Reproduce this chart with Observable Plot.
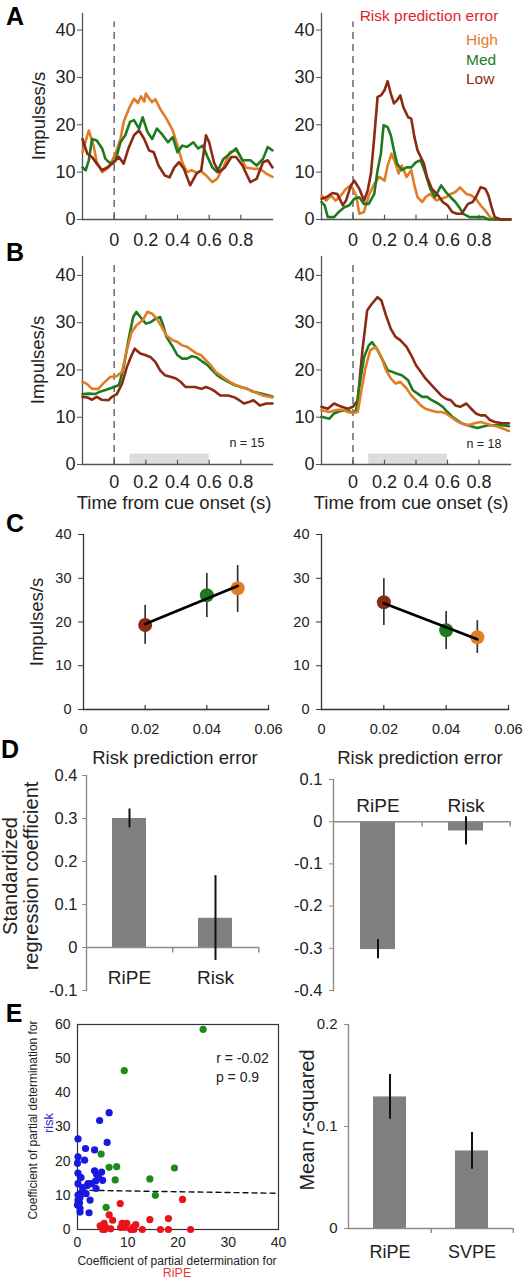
<!DOCTYPE html>
<html><head><meta charset="utf-8">
<script src="https://cdn.jsdelivr.net/npm/d3@7"></script>
<script src="https://cdn.jsdelivr.net/npm/@observablehq/plot@0.6"></script>
<style>
body{margin:0;background:#fff;}
#fig{position:relative;width:525px;height:1280px;overflow:hidden;background:#fff;font-family:"Liberation Sans",Arial,Helvetica,sans-serif;color:#222;}
.p{position:absolute;}
.p svg{overflow:visible;background:transparent;}
.lbl{position:absolute;white-space:nowrap;text-align:center;}
</style></head>
<body><div id="fig"></div>
<script>
// ---------- DATA ----------
const tDomain = [-0.2, 1.0];
const tTicks = [0, 0.2, 0.4, 0.6, 0.8];
const rateTicks = [0, 10, 20, 30, 40];
const analysisWindow = [0.1, 0.6];
const levels = ["High", "Med", "Low"];
const levelColors = {High: "#e27c25", Med: "#1f7a1f", Low: "#8b2a12"};

// Panel A (single neurons) [time s, impulses/s]
const aLeftHigh = [[-0.2,14.2],[-0.16,18.8],[-0.13,15.6],[-0.11,12.1],[-0.076,10],[-0.034,11],[0.008,13.9],[0.04,17],[0.06,20.6],[0.093,23.4],[0.125,25.5],[0.15,24.6],[0.17,26],[0.19,24.9],[0.2,26.6],[0.22,25.6],[0.24,24.8],[0.26,25.4],[0.29,23.4],[0.33,21.3],[0.37,18.8],[0.4,15.6],[0.43,12.1],[0.46,10],[0.49,10.4],[0.52,9.9],[0.55,10.2],[0.58,9.3],[0.62,7.9],[0.65,8.6],[0.69,11],[0.73,14.2],[0.77,14.6],[0.8,13.2],[0.83,11],[0.88,10.7],[0.92,10.7],[0.96,9.7],[1.0,9]];
const aLeftMed = [[-0.2,11],[-0.18,10.4],[-0.16,12.5],[-0.14,17],[-0.11,16.7],[-0.076,15],[-0.055,12.8],[-0.023,11.8],[0.008,12.5],[0.04,16.3],[0.07,17.8],[0.1,20.6],[0.125,21],[0.157,19.2],[0.18,21.6],[0.21,18.5],[0.24,17],[0.27,19.2],[0.3,18.1],[0.34,16.3],[0.37,17.4],[0.4,14.2],[0.43,15.6],[0.46,15.3],[0.5,16.3],[0.53,15],[0.56,15.6],[0.59,13.2],[0.62,11],[0.65,10],[0.69,12.8],[0.73,13.9],[0.77,15],[0.81,12.5],[0.86,12.5],[0.9,11.4],[0.94,12.8],[0.97,15.3],[1.0,14.6]];
const aLeftLow = [[-0.2,17],[-0.17,13.9],[-0.14,13.2],[-0.11,11.8],[-0.076,10.4],[-0.044,11],[0,12.1],[0.03,13.2],[0.06,11.8],[0.09,15],[0.125,17.8],[0.157,18.8],[0.19,17],[0.22,14.6],[0.25,14.2],[0.28,11.4],[0.32,9.3],[0.35,8.9],[0.38,11],[0.41,12.1],[0.44,10.7],[0.48,7.2],[0.52,9.7],[0.55,10.4],[0.58,17.8],[0.6,16.3],[0.63,12.1],[0.66,10],[0.7,11],[0.74,13.2],[0.77,13.2],[0.81,11.4],[0.86,7.9],[0.9,8.6],[0.94,12.1],[0.97,12.5],[1.0,11]];
const aRightHigh = [[-0.2,5.1],[-0.17,4],[-0.14,5.1],[-0.11,4],[-0.076,5.1],[-0.044,6.5],[-0.013,7.2],[0.02,5.1],[0.04,1.2],[0.07,1.6],[0.1,5.1],[0.135,7.5],[0.167,9],[0.2,8.2],[0.22,11.4],[0.245,13.9],[0.27,11.8],[0.29,9.7],[0.31,11.4],[0.34,9],[0.37,10.4],[0.39,7.2],[0.41,4.7],[0.44,3.7],[0.46,4.7],[0.49,5.4],[0.53,4],[0.56,4.4],[0.59,4.7],[0.62,5.4],[0.65,5.8],[0.68,6.8],[0.72,5.4],[0.75,5.1],[0.78,4.4],[0.81,3],[0.84,1.9],[0.87,0.5],[0.9,0],[1.0,0]];
const aRightMed = [[-0.2,3.7],[-0.18,3],[-0.16,0.5],[-0.12,0.5],[-0.09,1.6],[-0.055,2.6],[-0.023,3],[0.008,4.4],[0.04,4.7],[0.07,3.3],[0.1,3.3],[0.135,5.4],[0.156,10.4],[0.177,13.9],[0.194,19.9],[0.22,19.5],[0.24,17.8],[0.26,14.6],[0.28,11.8],[0.31,10.4],[0.34,11],[0.37,11],[0.4,12.1],[0.43,12.5],[0.46,9.7],[0.49,6.5],[0.52,4.7],[0.56,7.2],[0.59,5.8],[0.62,4.7],[0.65,3.7],[0.68,2.3],[0.7,1.2],[0.74,0.5],[0.83,0.5],[0.86,0],[1.0,0]];
const aRightLow = [[-0.2,4.4],[-0.17,4.7],[-0.13,5.6],[-0.1,5.4],[-0.065,3],[-0.044,4],[-0.013,7.2],[0.008,8.2],[0.04,6.5],[0.07,4],[0.093,6.1],[0.114,9.7],[0.135,17.4],[0.156,25.9],[0.177,26.2],[0.2,27.3],[0.22,29.2],[0.24,26.6],[0.26,24.5],[0.28,25.2],[0.3,26.2],[0.32,23.7],[0.35,21.6],[0.37,21.3],[0.39,17.4],[0.41,14.6],[0.43,13.2],[0.45,11.8],[0.47,9],[0.5,6.5],[0.54,5.1],[0.57,3.7],[0.6,3],[0.63,1.6],[0.66,1.2],[0.69,1.2],[0.73,3.3],[0.76,3.7],[0.78,4.7],[0.81,6.8],[0.84,6.5],[0.86,5.1],[0.88,2.6],[0.9,0.5],[0.94,0],[1.0,0]];

// Panel B (population averages)
const bLeftHigh = [[-0.2,17.5],[-0.17,17],[-0.14,16],[-0.1,16],[-0.07,17.1],[-0.025,18.5],[0.017,18.7],[0.05,19.6],[0.08,24.2],[0.11,28],[0.14,29.4],[0.18,30.5],[0.21,32.3],[0.24,31.9],[0.27,30.8],[0.3,29.1],[0.33,27.3],[0.37,26.3],[0.4,25.9],[0.43,25.2],[0.46,24.9],[0.49,24.2],[0.52,23.5],[0.55,23.1],[0.58,22],[0.61,21],[0.64,19.6],[0.67,18.9],[0.7,18.2],[0.74,17.3],[0.77,16.8],[0.8,16.4],[0.84,16],[0.88,15.4],[0.94,14.6],[1.0,14.2]];
const bLeftMed = [[-0.2,14.9],[-0.16,15],[-0.12,14.9],[-0.09,15.4],[-0.05,15.8],[0,16.4],[0.03,16.8],[0.06,20.6],[0.09,26.3],[0.12,31.2],[0.14,32.3],[0.165,31.2],[0.2,29.8],[0.23,30.1],[0.26,30.8],[0.29,31.2],[0.31,29.4],[0.33,27],[0.37,24.9],[0.4,23.1],[0.43,22.4],[0.46,22.4],[0.49,22.9],[0.52,22.7],[0.56,21.7],[0.59,21],[0.62,19.9],[0.65,18.9],[0.68,18.2],[0.72,17.5],[0.76,16.8],[0.8,16.4],[0.84,16],[0.88,15.4],[0.94,14.9],[1.0,14.4]];
const bLeftLow = [[-0.2,14.3],[-0.17,14.2],[-0.14,13.7],[-0.11,14.3],[-0.08,13.7],[-0.035,13.6],[-0.015,14.3],[0.017,14.9],[0.05,17.1],[0.08,20.6],[0.11,23.1],[0.13,24.5],[0.165,23.5],[0.2,23.1],[0.23,22.7],[0.26,21.7],[0.29,19.9],[0.32,18.9],[0.36,18.5],[0.39,18.2],[0.42,17.5],[0.45,16.4],[0.48,16.4],[0.51,16.4],[0.55,16],[0.58,16.4],[0.61,16],[0.64,15.4],[0.67,14.6],[0.72,14.6],[0.76,14.2],[0.79,13.6],[0.82,12.9],[0.85,13.2],[0.88,13.6],[0.92,12.5],[0.96,12.9],[1.0,12.9]];
const bRightHigh = [[-0.2,11.5],[-0.15,11.1],[-0.11,11.5],[-0.065,11.6],[-0.034,11.1],[0,10.9],[0.03,11.1],[0.05,15],[0.08,20.6],[0.11,24.2],[0.146,24.9],[0.18,22.7],[0.21,19.9],[0.24,18.2],[0.27,17.1],[0.3,17.5],[0.34,16.1],[0.37,14.6],[0.4,13.6],[0.43,12.5],[0.46,11.8],[0.49,11.5],[0.53,11.1],[0.56,11.1],[0.59,10.8],[0.62,10.1],[0.65,9.4],[0.68,8.8],[0.72,8.3],[0.75,8.5],[0.78,8.8],[0.81,9],[0.84,8.7],[0.88,8.3],[0.92,8],[0.95,7.6],[0.99,7.1]];
const bRightMed = [[-0.2,10.1],[-0.15,9.7],[-0.12,10.8],[-0.08,11.3],[-0.034,11.5],[0,10.8],[0.02,11.5],[0.04,16.4],[0.07,22.7],[0.1,25.2],[0.12,25.9],[0.156,24.2],[0.19,22],[0.22,19.9],[0.25,19.6],[0.28,19.2],[0.31,18.9],[0.35,17.8],[0.38,15.7],[0.41,15],[0.44,14.3],[0.47,14.3],[0.5,13.6],[0.54,12.9],[0.57,12.2],[0.6,11.1],[0.63,10.1],[0.66,9.4],[0.69,8.7],[0.73,8.3],[0.76,8],[0.79,7.7],[0.82,8],[0.86,8.3],[0.9,8.3],[0.95,8.3],[0.99,8.1]];
const bRightLow = [[-0.2,12.2],[-0.16,11.8],[-0.12,12.9],[-0.08,12.3],[-0.034,11.8],[0,12.2],[0.03,13.6],[0.06,24.2],[0.09,32.6],[0.12,34],[0.156,35.4],[0.18,34.7],[0.21,31.5],[0.24,28.7],[0.27,27],[0.3,26.3],[0.34,24.9],[0.37,23.1],[0.4,21],[0.43,19.6],[0.46,18.2],[0.49,17.1],[0.53,15.7],[0.56,14.6],[0.59,13.9],[0.62,13.6],[0.65,12.5],[0.68,12.2],[0.72,12.9],[0.75,11.8],[0.78,10.8],[0.81,10.4],[0.84,10.4],[0.87,9.4],[0.9,9],[0.95,8.7],[0.99,8.7]];

// Panel C
const rpeTicks = [0, 0.02, 0.04, 0.06];
const cLevels = ["Low", "Med", "High"];
const cRpe = [0.02, 0.04, 0.05];
const cLeftRate = [19.3, 26.1, 27.7];
const cLeftLo = [14.9, 21.0, 22.2];
const cLeftHi = [23.8, 31.1, 32.9];
const cRightRate = [24.5, 18.1, 16.5];
const cRightLo = [19.2, 13.7, 12.8];
const cRightHi = [29.9, 22.4, 20.3];

// Panel D
const dNames = ["RiPE", "Risk"];
const dLeftCoef = [0.300, 0.068];
const dLeftLo = [0.278, -0.030];
const dLeftHi = [0.322, 0.167];
const dRightCoef = [-0.303, -0.022];
const dRightLo = [-0.325, -0.055];
const dRightHi = [-0.280, 0.012];
const dLeftTicks = [-0.1, 0, 0.1, 0.2, 0.3, 0.4];
const dRightTicks = [-0.4, -0.3, -0.2, -0.1, 0, 0.1];

// Panel E scatter (coefficient of partial determination)
const riskX = [6.3,4.4,0.1,5.9,1.6,3.4,0.1,1.4,0,3.4,4.8,0.1,3.8,0.7,4.2,5.0,3.6,0.1,2.1,2.8,1.9,1.0,3.7,0.7,1.7,0.1,0.5,0.1,2.5,0.4,0,0.5,0.5,2.3];
const riskY = [34.2,31.9,26.5,25.5,23.7,23.3,21.3,20.3,19.4,17.2,16.8,16.5,16.2,15.2,15.2,14.4,14.2,13.4,13.4,13.4,12.8,12.3,12.0,10.7,10.5,10.1,9.4,8.6,8.6,7.8,7.2,6.2,5.1,4.9];
const bothX = [25.0,9.3,4.7,6.3,7.8,7.5,14.4,19.3,15.5,5.7];
const bothY = [58.6,46.5,22.1,18.2,18.4,14.5,14.8,18.0,10.0,6.5];
const ripeX = [8.5,20.9,6.3,7.0,14.4,18.1,4.5,5.3,5.6,5.0,6.6,8.6,8.9,9.8,9.4,10.6,11.1,11.6,11.2,12.9,16.5,18.1,22.5,5.4];
const ripeY = [7.6,8.8,4.3,2.7,2.9,3.2,1.1,1.8,0.6,0,0.2,0.6,1.8,1.8,0.6,0,0.6,1.4,0,0,0,0,0,0];
const scatterFitX = [0.7, 40];
const scatterFitY = [11.5, 10.6];
const scatterTicksX = [0, 10, 20, 30, 40];
const scatterTicksY = [0, 10, 20, 30, 40, 50, 60];

// Panel E bars
const eNames = ["RiPE", "SVPE"];
const eR2 = [0.129, 0.076];
const eLo = [0.107, 0.058];
const eHi = [0.151, 0.094];
const eTicks = [0, 0.1, 0.2];

// ---------- HELPERS ----------
const FONT = '"Liberation Sans", Arial, Helvetica, sans-serif';
const fig = document.getElementById("fig");
function place(node, left, top) {
  const d = document.createElement("div");
  d.className = "p";
  d.style.left = left + "px";
  d.style.top = top + "px";
  d.appendChild(node);
  fig.appendChild(d);
}
function label(parts, x, y, o = {}) {
  const {size = 18.5, color = "#222", rot = false, weight = 400, lh = null, align = "center"} = o;
  const d = document.createElement("div");
  d.className = "lbl";
  for (const p of parts) {
    if (p === "\n") { d.appendChild(document.createElement("br")); continue; }
    if (typeof p === "string") d.appendChild(document.createTextNode(p));
    else { const s = document.createElement(p.tag || "span"); s.textContent = p.text; if (p.color) s.style.color = p.color; d.appendChild(s); }
  }
  Object.assign(d.style, {left: x + "px", top: y + "px", fontSize: size + "px", color, fontWeight: weight, lineHeight: (lh || size) + "px"});
  let tr = align === "center" ? "translate(-50%,-50%)" : "translate(0,-50%)";
  if (rot) tr += " rotate(-90deg)";
  d.style.transform = tr;
  fig.appendChild(d);
}
const style = (fs) => ({fontFamily: FONT, fontSize: fs + "px", color: "#222", background: "transparent", overflow: "visible"});
const fmtT = d => d === 0 ? "0" : d.toFixed(1);
const fmtR = d => d === 0 ? "0" : d.toFixed(2);
const fmt1 = d => Math.abs(d) < 1e-9 ? "0" : d.toFixed(1);

function tracePanel({left, top, width, height, mL, mR, mT, mB, ymax, series, win, nText, nDx, nDy, tickPad}) {
  const marks = [];
  if (win) marks.push(Plot.rectY([win], {x1: d => d[0], x2: d => d[1], y1: 0, y2: 2.2, fill: "#dcdcdc"}));
  marks.push(
    Plot.ruleX([0], {y1: 0, y2: ymax - 1.8, stroke: "#5e5e5e", strokeWidth: 1.4, strokeDasharray: "7,5"}),
    Plot.frame({anchor: "left", stroke: "#555", strokeWidth: 1.3}),
    Plot.frame({anchor: "bottom", stroke: "#555", strokeWidth: 1.3}),
    Plot.ruleX(tTicks, {y1: 0, y2: 0.9, stroke: "#555", strokeWidth: 1.2}),
    Plot.axisY({ticks: rateTicks, tickSize: 5, tickPadding: 2, label: null, stroke: "#555"}),
    Plot.axisX({ticks: tTicks, tickSize: 0, tickPadding: tickPad, label: null, tickFormat: fmtT})
  );
  for (const s of series) marks.push(Plot.line(s.data, {x: d => d[0], y: d => d[1], stroke: levelColors[s.level], strokeWidth: 2.6, strokeLinejoin: "round"}));
  if (nText) marks.push(Plot.text([nText], {frameAnchor: "bottom-right", dx: nDx, dy: nDy, textAnchor: "end", fontSize: 12.5, fill: "#222"}));
  place(Plot.plot({width, height, marginLeft: mL, marginRight: mR, marginTop: mT, marginBottom: mB,
    x: {domain: tDomain, axis: null}, y: {domain: [0, ymax], axis: null}, style: style(18), marks}), left, top);
}

function tuningPanel({left, top, width, mL, mR, rate, lo, hi}) {
  const rows = cLevels.map((l, i) => ({level: l, rpe: cRpe[i], rate: rate[i], lo: lo[i], hi: hi[i], color: levelColors[l]}));
  place(Plot.plot({width, height: 230, marginLeft: mL, marginRight: mR, marginTop: 14, marginBottom: 41,
    x: {domain: [0, 0.06], axis: null}, y: {domain: [0, 40], axis: null}, color: {type: "identity"}, style: style(14.5),
    marks: [
      Plot.frame({anchor: "left", stroke: "#333", strokeWidth: 1.3}),
      Plot.frame({anchor: "bottom", stroke: "#333", strokeWidth: 1.3}),
      Plot.ruleX(rpeTicks.slice(1), {y1: 0, y2: 0.9, stroke: "#333", strokeWidth: 1.2}),
      Plot.axisY({ticks: rateTicks, tickSize: 5, tickPadding: 7, label: null, stroke: "#333"}),
      Plot.text(rpeTicks, {x: d => d, text: fmtR, frameAnchor: "bottom", dy: 24, fontSize: 14.5, fill: "#222"}),
      Plot.ruleX(rows, {x: "rpe", y1: "lo", y2: "hi", stroke: "#333", strokeWidth: 1.7}),
      Plot.dot(rows, {x: "rpe", y: "rate", r: 7, fill: "color", stroke: "none"}),
      Plot.linearRegressionY(rows, {x: "rpe", y: "rate", stroke: "#000", strokeWidth: 2.8, ci: 0})
    ]}), left, top);
}

function barPanel({left, top, width, height, mL, mR, mT, mB, names, vals, lo, hi, domain, ticks, fs, tickPad, catFs, catAnchor, catDy}) {
  const rows = names.map((n, i) => ({name: n, v: vals[i], lo: lo[i], hi: hi[i]}));
  const step = (width - mL - mR) / names.length;
  const span = domain[1] - domain[0];
  place(Plot.plot({width, height, marginLeft: mL, marginRight: mR, marginTop: mT, marginBottom: mB,
    x: {domain: names, paddingInner: 0.6, paddingOuter: 0.3, axis: null}, y: {domain, axis: null}, style: style(fs),
    marks: [
      Plot.barY(rows, {x: "name", y: "v", fill: "#808080"}),
      Plot.ruleY([0], {stroke: "#8c8c8c", strokeWidth: 1.4}),
      Plot.frame({anchor: "left", stroke: "#8c8c8c", strokeWidth: 1.4}),
      Plot.ruleX(names, {x: d => d, y1: 0, y2: -span * 0.025, dx: step / 2, stroke: "#8c8c8c", strokeWidth: 1.4}),
      Plot.ruleX(rows, {x: "name", y1: "lo", y2: "hi", stroke: "#111", strokeWidth: 2}),
      Plot.axisY({ticks, tickSize: 4, tickPadding: tickPad, label: null, stroke: "#8c8c8c", tickFormat: fmt1}),
      Plot.text(names, {x: d => d, frameAnchor: catAnchor, dy: catDy, fontSize: catFs, fill: "#222"})
    ]}), left, top);
}

// ---------- PANEL A ----------
tracePanel({left: 0, top: 0, width: 280, height: 250, mL: 82, mR: 8, mT: 13, mB: 31, ymax: 43.5, tickPad: 14,
  series: [{level: "High", data: aLeftHigh}, {level: "Med", data: aLeftMed}, {level: "Low", data: aLeftLow}]});
tracePanel({left: 240, top: 0, width: 285, height: 250, mL: 81, mR: 15, mT: 13, mB: 31, ymax: 43.5, tickPad: 14,
  series: [{level: "High", data: aRightHigh}, {level: "Med", data: aRightMed}, {level: "Low", data: aRightLow}]});

// ---------- PANEL B ----------
tracePanel({left: 0, top: 243, width: 280, height: 250, mL: 82, mR: 8, mT: 13, mB: 29, ymax: 44, tickPad: 11,
  win: analysisWindow, nText: "n = 15", nDx: -8, nDy: -18,
  series: [{level: "Low", data: bLeftLow}, {level: "Med", data: bLeftMed}, {level: "High", data: bLeftHigh}]});
tracePanel({left: 240, top: 243, width: 285, height: 250, mL: 81, mR: 15, mT: 13, mB: 29, ymax: 44, tickPad: 11,
  win: analysisWindow, nText: "n = 18", nDx: -9, nDy: -17,
  series: [{level: "Low", data: bRightLow}, {level: "Med", data: bRightMed}, {level: "High", data: bRightHigh}]});

// ---------- PANEL C ----------
tuningPanel({left: 0, top: 520, width: 280, mL: 83, mR: 12, rate: cLeftRate, lo: cLeftLo, hi: cLeftHi});
tuningPanel({left: 240, top: 520, width: 285, mL: 81, mR: 17, rate: cRightRate, lo: cRightLo, hi: cRightHi});

// ---------- PANEL D ----------
barPanel({left: 0, top: 760, width: 280, height: 240, mL: 86, mR: 21, mT: 15, mB: 10, names: dNames,
  vals: dLeftCoef, lo: dLeftLo, hi: dLeftHi, domain: [-0.1, 0.4], ticks: dLeftTicks, fs: 16.5, tickPad: 5,
  catFs: 19, catAnchor: "bottom", catDy: -7});
barPanel({left: 250, top: 760, width: 275, height: 240, mL: 83, mR: 15, mT: 19, mB: 10, names: dNames,
  vals: dRightCoef, lo: dRightLo, hi: dRightHi, domain: [-0.4, 0.1], ticks: dRightTicks, fs: 16.5, tickPad: 7,
  catFs: 19, catAnchor: "top", catDy: 19});

// ---------- PANEL E scatter ----------
{
  const pts = (xs, ys, color) => xs.map((x, i) => ({x, y: ys[i], color}));
  const fit = scatterFitX.map((x, i) => ({x, y: scatterFitY[i]}));
  place(Plot.plot({width: 290, height: 255, marginLeft: 77, marginRight: 12, marginTop: 19, marginBottom: 31,
    x: {domain: [0, 40], axis: null}, y: {domain: [0, 60], axis: null}, color: {type: "identity"}, style: style(14),
    marks: [
      Plot.frame({stroke: "#333", strokeWidth: 1.2}),
      Plot.text(scatterTicksX, {x: d => d, frameAnchor: "bottom", dy: 17, fontSize: 14, fill: "#222"}),
      Plot.axisY({ticks: scatterTicksY, tickSize: 0, tickPadding: 7, label: null}),
      Plot.line(fit, {x: "x", y: "y", stroke: "#111", strokeWidth: 1.4, strokeDasharray: "5,4"}),
      Plot.dot(pts(riskX, riskY, "#1818e0"), {x: "x", y: "y", r: 3.6, fill: "color", stroke: "none"}),
      Plot.dot(pts(bothX, bothY, "#1e8a1e"), {x: "x", y: "y", r: 3.6, fill: "color", stroke: "none"}),
      Plot.dot(pts(ripeX, ripeY, "#e8141c"), {x: "x", y: "y", r: 3.6, fill: "color", stroke: "none"}),
      Plot.text(["r = -0.02"], {frameAnchor: "top-right", dx: -36, dy: 29, textAnchor: "middle", fontSize: 14, fill: "#222"}),
      Plot.text(["p = 0.9"], {frameAnchor: "top-right", dx: -41, dy: 48, textAnchor: "middle", fontSize: 14, fill: "#222"})
    ]}), 0, 1005);
}

// ---------- PANEL E bars ----------
barPanel({left: 270, top: 1005, width: 255, height: 265, mL: 78, mR: 12, mT: 19, mB: 42, names: eNames,
  vals: eR2, lo: eLo, hi: eHi, domain: [0, 0.2], ticks: eTicks, fs: 15, tickPad: 7,
  catFs: 18, catAnchor: "bottom", catDy: 29});

// ---------- TEXT LABELS ----------
label(["A"], 15, 16, {size: 25, weight: 700, color: "#000"});
label(["B"], 15, 252, {size: 25, weight: 700, color: "#000"});
label(["C"], 15, 523, {size: 25, weight: 700, color: "#000"});
label(["D"], 10, 749, {size: 25, weight: 700, color: "#000"});
label(["E"], 14, 1013, {size: 25, weight: 700, color: "#000"});

label(["Risk prediction error"], 429, 16, {size: 15.5, color: "#e3232c"});
label(["High"], 466, 40, {size: 15.5, color: levelColors.High, align: "left"});
label(["Med"], 466, 60, {size: 15.5, color: levelColors.Med, align: "left"});
label(["Low"], 466, 79, {size: 15.5, color: levelColors.Low, align: "left"});

label(["Impulses/s"], 39, 116, {rot: true});
label(["Impulses/s"], 38, 360, {rot: true});
label(["Impulses/s"], 37, 622, {rot: true});
label(["Time from cue onset (s)"], 174, 503);
label(["Time from cue onset (s)"], 411, 503);
label(["Risk prediction error"], 175, 758);
label(["Risk prediction error"], 420, 758);
label(["Standardized", "\n", "regression coefficient"], 21, 876, {rot: true, size: 20, lh: 21});

label(["Coefficient of partial determination for"], 33, 1120, {rot: true, size: 12});
label(["risk"], 48, 1123, {rot: true, size: 13, color: "#2a2ad0"});
label(["Coefficient of partial determination for"], 177, 1261, {size: 12});
label(["RiPE"], 177, 1273, {size: 12.5, color: "#e8383a"});
label(["Mean ", {tag: "i", text: "r"}, "-squared"], 307, 1120, {rot: true, size: 20});
</script>
</body></html>
